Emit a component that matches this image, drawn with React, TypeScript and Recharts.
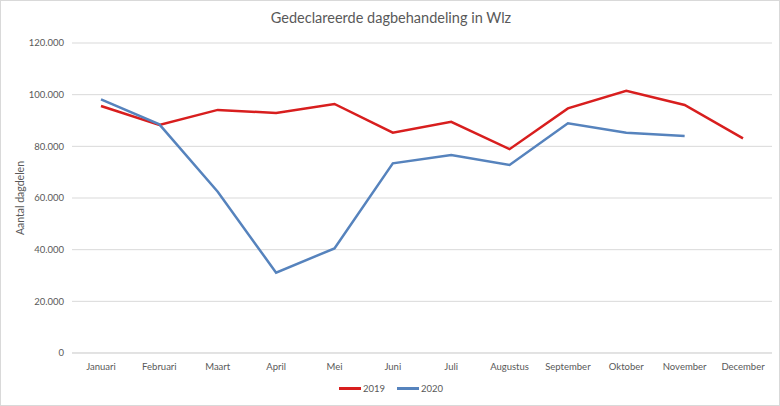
import React from "react";
import {
  LineChart,
  Line,
  XAxis,
  YAxis,
  CartesianGrid,
  Label,
} from "recharts";

const months = [
  "Januari", "Februari", "Maart", "April", "Mei", "Juni",
  "Juli", "Augustus", "September", "Oktober", "November", "December",
];
const values2019 = [95600, 88300, 94100, 92900, 96400, 85300, 89500, 78900, 94700, 101500, 96000, 83100];
const values2020 = [98200, 88500, 62400, 31100, 40500, 73400, 76600, 72800, 88900, 85300, 84000, null];
const yTicks = [0, 20000, 40000, 60000, 80000, 100000, 120000];

const data = months.map((m, i) => ({ name: m, y2019: values2019[i], y2020: values2020[i] }));

const RED = "#d81e1e";
const BLUE = "#5683bd";
const TEXT = "#595959";
const FONT = "Lato, 'Open Sans', sans-serif";

const fmt = (v: number) => String(v).replace(/\B(?=(\d{3})+(?!\d))/g, ".");

export default function App() {
  return (
    <div
      style={{
        position: "absolute",
        left: 0,
        top: 0,
        width: 780,
        height: 406,
        boxSizing: "border-box",
        border: "1px solid #d9d9d9",
        background: "#fff",
        fontFamily: FONT,
      }}
    >
      <div
        style={{
          position: "absolute",
          top: 8,
          left: 0,
          width: 780,
          textAlign: "center",
          fontSize: 14.5,
          color: TEXT,
        }}
      >
        Gedeclareerde dagbehandeling in Wlz
      </div>
      <div style={{ position: "absolute", left: -1, top: -1 }}>
        <LineChart
          width={780}
          height={406}
          data={data}
          margin={{ top: 43, right: 8, bottom: 25, left: 0 }}
        >
          <CartesianGrid vertical={false} stroke="#d9d9d9" />
          <XAxis
            dataKey="name"
            height={28}
            padding={{ left: 29, right: 29 }}
            axisLine={{ stroke: "#d9d9d9" }}
            tickLine={false}
            interval={0}
            tick={{ fontSize: 9.5, fill: TEXT, fontFamily: FONT }}
            dy={2}
          />
          <YAxis
            width={72}
            domain={[0, 120000]}
            ticks={yTicks}
            axisLine={false}
            tickLine={false}
            tickFormatter={fmt}
            tick={{ fontSize: 9.5, fill: TEXT, fontFamily: FONT }}
          >
            <Label
              value="Aantal dagdelen"
              angle={-90}
              position="insideLeft"
              offset={20}
              style={{ fontSize: 10.5, fill: TEXT, fontFamily: FONT, textAnchor: "middle" }}
            />
          </YAxis>
          <Line
            type="linear"
            dataKey="y2019"
            stroke={RED}
            strokeWidth={2.5}
            dot={false}
            isAnimationActive={false}
          />
          <Line
            type="linear"
            dataKey="y2020"
            stroke={BLUE}
            strokeWidth={2.5}
            dot={false}
            isAnimationActive={false}
          />
        </LineChart>
      </div>
      <div
        style={{
          position: "absolute",
          top: 382,
          left: 0,
          width: 780,
          display: "flex",
          justifyContent: "center",
          alignItems: "center",
          fontSize: 9.5,
          color: TEXT,
        }}
      >
        {[
          { label: "2019", color: RED },
          { label: "2020", color: BLUE },
        ].map((s) => (
          <div key={s.label} style={{ display: "flex", alignItems: "center", margin: "0 6px" }}>
            <span style={{ display: "inline-block", width: 22, height: 2.5, background: s.color, marginRight: 2 }} />
            {s.label}
          </div>
        ))}
      </div>
    </div>
  );
}
